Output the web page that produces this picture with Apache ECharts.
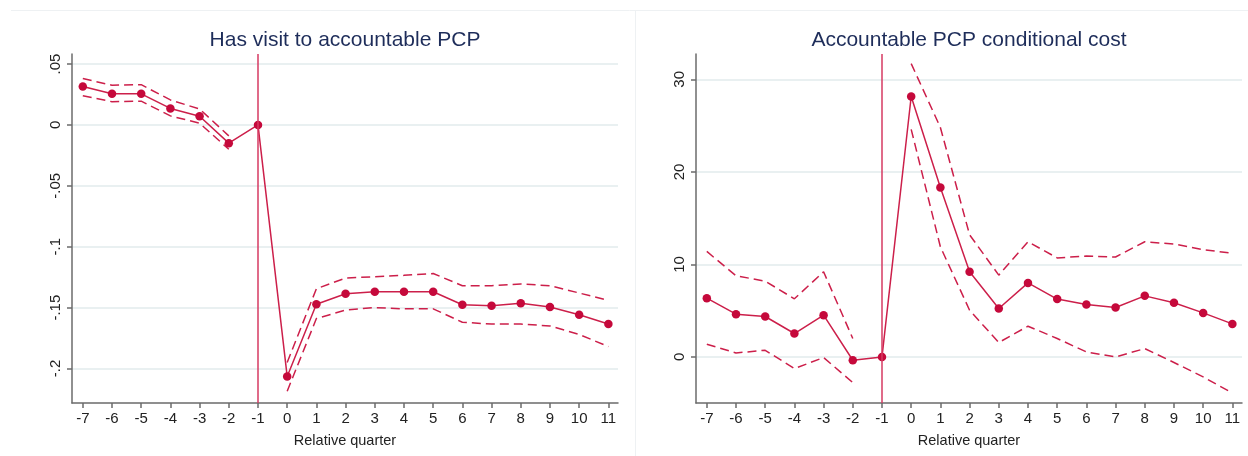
<!DOCTYPE html>
<html>
<head>
<meta charset="utf-8">
<script src="https://cdn.jsdelivr.net/npm/echarts@6/dist/echarts.min.js"></script>
<style>
  html, body { margin: 0; padding: 0; background: #fff; }
  #chart { width: 1248px; height: 456px; }
</style>
</head>
<body>
<div id="chart"></div>
<script>
// Event-study estimates by quarter relative to attribution (-1 is the reference quarter)
const quarters = [-7, -6, -5, -4, -3, -2, -1, 0, 1, 2, 3, 4, 5, 6, 7, 8, 9, 10, 11];

// Has visit to accountable PCP: point estimate and 95% CI bounds
const visitCoef = [0.0316, 0.0255, 0.0255, 0.0135, 0.0071, -0.0150, 0, -0.2065, -0.1473, -0.1386, -0.1370, -0.1370, -0.1370, -0.1476, -0.1484, -0.1465, -0.1495, -0.1558, -0.1635];
const visitHi   = [0.0380, 0.0326, 0.0330, 0.0205, 0.0130, -0.0090, null, -0.1950, -0.1345, -0.1257, -0.1246, -0.1235, -0.1220, -0.1320, -0.1320, -0.1306, -0.1320, -0.1380, -0.1440];
const visitLo   = [0.0240, 0.0190, 0.0195, 0.0074, 0.0014, -0.0200, null, -0.2186, -0.1590, -0.1520, -0.1500, -0.1510, -0.1510, -0.1620, -0.1635, -0.1635, -0.1650, -0.1720, -0.1820];

// Accountable PCP conditional cost: point estimate and 95% CI bounds
const costCoef = [6.35, 4.62, 4.37, 2.53, 4.51, -0.36, 0, 28.15, 18.32, 9.2, 5.23, 8.0, 6.25, 5.67, 5.34, 6.6, 5.85, 4.76, 3.57];
const costHi   = [11.4, 8.77, 8.19, 6.28, 9.2, 1.99, null, 31.7, 24.8, 13.2, 8.84, 12.45, 10.7, 10.9, 10.8, 12.45, 12.2, 11.6, 11.2];
const costLo   = [1.37, 0.43, 0.72, -1.26, -0.07, -2.77, null, 24.6, 11.9, 5.05, 1.56, 3.32, 1.99, 0.54, 0.0, 0.9, -0.6, -2.16, -3.9];

// Tick labels
const visitTicks = [-0.2, -0.15, -0.1, -0.05, 0, 0.05];
const visitTickText = ['-.2', '-.15', '-.1', '-.05', '0', '.05'];
const costTicks = [0, 10, 20, 30];

const RED = '#c5093b';
const RED_LINE = '#cc1f4a';
const REF_LINE = '#d63a62';
const AXIS = '#6b6b6b';
const GRID_LINE = '#e9f0f1';

const pairs = (vals) => quarters.map((q, i) => [q, vals[i]]);

function xAxisFor(gridIndex) {
  return {
    type: 'value', gridIndex,
    min: -7.37, max: 11.33,
    name: 'Relative quarter', nameLocation: 'middle', nameGap: 30,
    nameTextStyle: { fontFamily: 'Liberation Sans', fontSize: 14.5, color: '#222' },
    axisLine: { onZero: false, lineStyle: { color: AXIS, width: 1.5 } },
    axisTick: { length: 5, customValues: quarters, lineStyle: { color: AXIS, width: 1.5 } },
    axisLabel: { customValues: quarters, margin: 8, fontFamily: 'Liberation Sans', fontSize: 15, color: '#222' },
    splitLine: { show: false }
  };
}

function yAxisFor(gridIndex, min, max, ticks, fmt) {
  return {
    type: 'value', gridIndex, min, max,
    axisLine: { show: true, onZero: false, lineStyle: { color: AXIS, width: 1.5 } },
    axisTick: { show: true, length: 5, customValues: ticks, lineStyle: { color: AXIS, width: 1.5 } },
    axisLabel: { customValues: ticks, rotate: 90, margin: 9, formatter: fmt,
                 fontFamily: 'Liberation Sans', fontSize: 15, color: '#222' },
    splitLine: { show: true, lineStyle: { color: GRID_LINE, width: 2 } }
  };
}

function panelSeries(idx, coef, hi, lo) {
  const dashed = { color: RED_LINE, width: 1.5, type: [9, 5] };
  return [
    {
      type: 'line', xAxisIndex: idx, yAxisIndex: idx, data: pairs(hi),
      symbol: 'none', connectNulls: false, lineStyle: dashed, z: 3, silent: true
    },
    {
      type: 'line', xAxisIndex: idx, yAxisIndex: idx, data: pairs(lo),
      symbol: 'none', connectNulls: false, lineStyle: dashed, z: 3, silent: true
    },
    {
      type: 'line', xAxisIndex: idx, yAxisIndex: idx, data: pairs(coef),
      symbol: 'circle', symbolSize: 8.5, itemStyle: { color: RED },
      lineStyle: { color: RED_LINE, width: 1.5 }, z: 4, silent: true,
      markLine: {
        silent: true, symbol: 'none', label: { show: false },
        lineStyle: { color: REF_LINE, width: 1.5, type: 'solid' },
        data: [{ xAxis: -1 }]
      }
    }
  ];
}

const chart = echarts.init(document.getElementById('chart'), null, { renderer: 'canvas' });

chart.setOption({
  backgroundColor: '#ffffff',
  animation: false,
  grid: [
    { left: 72, top: 54, right: 630, bottom: 53 },
    { left: 696, top: 54, right: 6, bottom: 53 }
  ],
  xAxis: [xAxisFor(0), xAxisFor(1)],
  yAxis: [
    yAxisFor(0, -0.2283, 0.0582, visitTicks, (v) => {
      const i = visitTicks.findIndex(t => Math.abs(t - v) < 1e-9);
      return i >= 0 ? visitTickText[i] : '';
    }),
    yAxisFor(1, -4.98, 32.74, costTicks, (v) => String(Math.round(v)))
  ],
  graphic: [
    // faint frame between the two panels
    { type: 'line', silent: true, z: 0, shape: { x1: 11, y1: 10.5, x2: 1248, y2: 10.5 },
      style: { stroke: '#eef1f3', lineWidth: 1 } },
    { type: 'line', silent: true, z: 0, shape: { x1: 635.5, y1: 10, x2: 635.5, y2: 456 },
      style: { stroke: '#eef1f3', lineWidth: 1 } },
    { type: 'text', silent: true, x: 345, y: 40,
      style: { text: 'Has visit to accountable PCP', textAlign: 'center', textVerticalAlign: 'middle',
               font: '21px "Liberation Sans"', fill: '#1e2d5a' } },
    { type: 'text', silent: true, x: 969, y: 40,
      style: { text: 'Accountable PCP conditional cost', textAlign: 'center', textVerticalAlign: 'middle',
               font: '21px "Liberation Sans"', fill: '#1e2d5a' } }
  ],
  series: [
    ...panelSeries(0, visitCoef, visitHi, visitLo),
    ...panelSeries(1, costCoef, costHi, costLo)
  ]
});
</script>
</body>
</html>
